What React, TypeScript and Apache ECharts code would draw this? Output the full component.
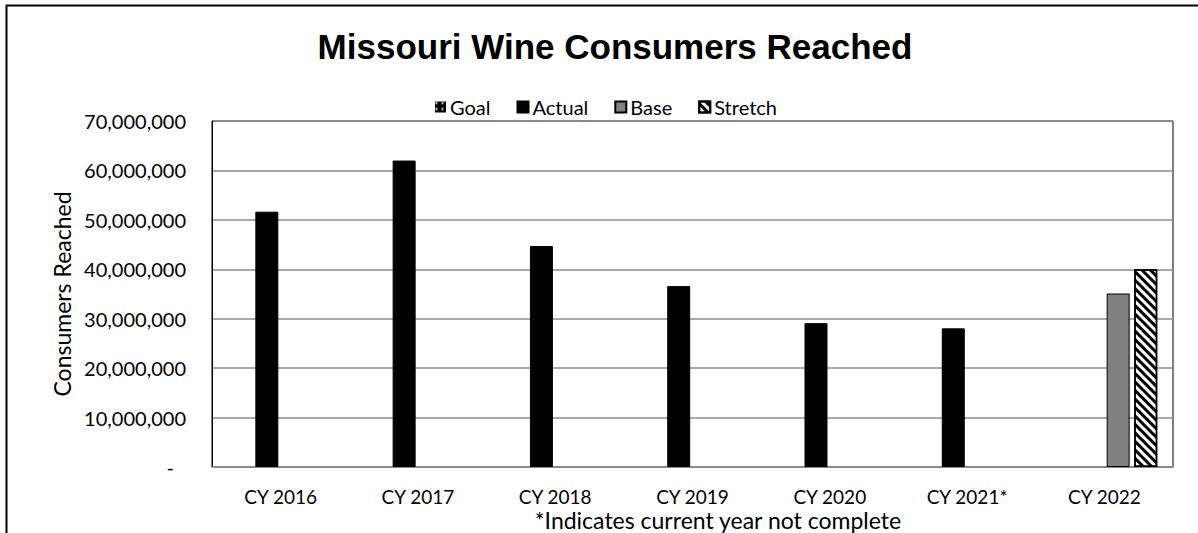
import React, { useEffect, useRef } from "react";
import * as echarts from "echarts";

const categories = ["CY 2016", "CY 2017", "CY 2018", "CY 2019", "CY 2020", "CY 2021*", "CY 2022"];
const goalValues: (number | null)[] = [null, null, null, null, null, null, null];
const actualValues: (number | null)[] = [51650000, 62000000, 44700000, 36600000, 29100000, 28050000, null];
const baseValues: (number | null)[] = [null, null, null, null, null, null, 35100000];
const stretchValues: (number | null)[] = [null, null, null, null, null, null, 40000000];
const titleText = "Missouri Wine Consumers Reached";
const yAxisTitle = "Consumers Reached";
const footnote = "*Indicates current year not complete";

const FONT = "Lato, 'Open Sans', sans-serif";

export default function App() {
  const ref = useRef<HTMLDivElement>(null);
  useEffect(() => {
    if (!ref.current) return;
    const chart = echarts.init(ref.current, null, { renderer: "svg" });
    const barCommon = { type: "bar" as const, barWidth: 23, barGap: "20%" };
    chart.setOption({
      animation: false,
      backgroundColor: "#fff",
      title: {
        text: titleText,
        left: 610,
        textAlign: "center",
        top: 24,
        textStyle: { fontFamily: "'Liberation Sans', Arial, sans-serif", fontWeight: "bold", fontSize: 35, color: "#000" },
      },
      legend: {
        top: 92,
        left: 430,
        itemWidth: 11,
        itemHeight: 11,
        itemGap: 26,
        icon: "rect",
        textStyle: { fontFamily: FONT, fontSize: 20, color: "#000", padding: [0, 0, 0, -1] },
        data: ["Goal", "Actual", "Base", "Stretch"],
      },
      grid: { left: 212, right: 25, top: 121, bottom: 66, show: true, borderColor: "#000", borderWidth: 1, containLabel: false },
      xAxis: {
        type: "category",
        data: categories,
        axisLine: { lineStyle: { color: "#8c8c8c", width: 1.5 } },
        axisTick: { show: false },
        axisLabel: { fontFamily: FONT, fontSize: 19, color: "#000", margin: 20 },
      },
      yAxis: {
        type: "value",
        min: 0,
        max: 70000000,
        interval: 10000000,
        name: yAxisTitle,
        nameLocation: "middle",
        nameGap: 137,
        nameTextStyle: { fontFamily: FONT, fontSize: 23, color: "#000" },
        axisLine: { show: true, lineStyle: { color: "#000", width: 1 } },
        axisTick: { show: false },
        splitLine: { lineStyle: { color: "#8c8c8c", width: 1.5 } },
        axisLabel: {
          fontFamily: FONT,
          fontSize: 20,
          color: "#000",
          margin: 26,
          formatter: (v: number) => (v === 0 ? "{dash|-}" : v.toLocaleString("en-US")),
          rich: { dash: { fontFamily: FONT, fontSize: 20, color: "#000", padding: [0, 12, 0, 0] } },
        },
      },
      series: [
        {
          ...barCommon,
          name: "Goal",
          data: goalValues,
          itemStyle: {
            color: "#000",
            borderColor: "#000",
            decal: { symbol: "rect", color: "#fff", backgroundColor: "#000", dashArrayX: [3, 3], dashArrayY: [3, 3], symbolSize: 0.6 },
          },
        },
        {
          ...barCommon,
          name: "Actual",
          data: actualValues,
          itemStyle: { color: "#000", borderColor: "#000", borderWidth: 1 },
        },
        {
          ...barCommon,
          name: "Base",
          data: baseValues,
          itemStyle: { color: "#808080", borderColor: "#000", borderWidth: 1 },
        },
        {
          ...barCommon,
          name: "Stretch",
          data: stretchValues,
          itemStyle: {
            color: "#fff",
            borderColor: "#000",
            borderWidth: 1.5,
            decal: { symbol: "rect", color: "#000", backgroundColor: "#fff", dashArrayX: [1, 0], dashArrayY: [3, 2.5], rotation: Math.PI / 4, symbolSize: 1 },
          },
        },
      ],
      graphic: [
        {
          type: "rect",
          shape: { x: 6.5, y: 5.5, width: 1300, height: 700 },
          style: { fill: "none", stroke: "#000", lineWidth: 2 },
          silent: true,
        },
        {
          type: "text",
          x: 718,
          y: 520,
          style: { text: footnote, fontFamily: FONT, fontSize: 23, fill: "#000", align: "center", verticalAlign: "middle" },
          silent: true,
        },
      ],
    });
    return () => chart.dispose();
  }, []);
  return <div ref={ref} style={{ position: "fixed", left: 0, top: 0, width: 1198, height: 533 }} />;
}
